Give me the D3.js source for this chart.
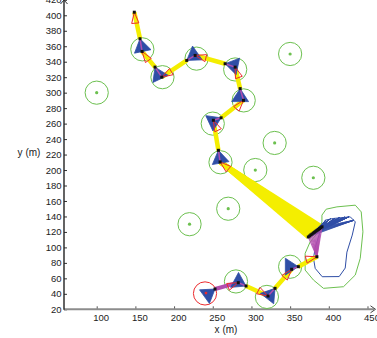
<!DOCTYPE html>
<html><head><meta charset="utf-8">
<script src="https://cdn.jsdelivr.net/npm/d3@7"></script>
<style>body{margin:0;background:#fff} svg{display:block} text{font-family:"Liberation Sans",Arial,sans-serif}</style>
</head><body><svg id="c" width="377" height="338"></svg>
<script>
// ---------- data (metres) ----------
const xTicks = [100,150,200,250,300,350,400,450];
const yTicks = [20,40,60,80,100,120,140,160,180,200,220,240,260,280,300,320,340,360,380,400,420];
const landmarks = [[100,300],[350,350],[330,235],[305,200],[380,190],[270,150],[220,130]];
const waypointCircles = [[159,356],[185,320],[229,344],[279,330],[290,290],[250,260],[260,210],[350,75],[320,36],[280,56]];
const goalCircle = [240,40.5];
const circleRadius = 15;
// route nodes: S, W1..W7, W8, W9..W12
const arrivePts = [null,[156.0,369.7],[175.4,333.0],[216.4,341.7],[266.0,337.4],[285.4,305.2],[260.8,267.5],[257.3,225.5],null,[360.6,75.1],[330.5,47.1],[293.0,50.1],[252.9,46.2]];
const departPts = [[148.6,404.0],[158.6,353.3],[184.1,320.1],[227.2,348.1],[278.9,333.0],[289.7,290.1],[250.8,264.3],[259.5,210.5],[384.6,87.9],[352.0,71.7],[321.4,37.2],[283.0,54.4],null];
const blueHeading = [null,-78,-65,35,-12,-90,-155,-80,null,180,-128,152,-144];
const redHeading  = [-85,-55,30,-14,-70,-130,-65,-41,-165,-130,151,-158,null];
// particle cloud at W8 (end of the long beam)
const particles = [[373.5,113.5],[375.2,114.8],[376.8,116.2],[378.4,117.3],[380.0,118.6],[381.6,119.7],[383.2,120.9],[384.8,122.0],[386.4,123.1],[388.0,124.3],[389.6,125.4],[391.2,126.6]];
const blueTargets = [[396,135],[402,137],[408,137.5],[414,138.5],[420,139],[426,139.5],[432,135]];
const greenContour = [[391.1,141.7],[396.6,149.4],[410.5,152.4],[434.2,154.6],[441.9,145.9],[444.1,120.1],[440.6,85.8],[434.2,64.3],[419.0,49.2],[393.1,47.1],[380.2,57.8],[369.4,70.7],[369.4,92.3],[375.9,107.2],[386.7,120.1],[391.1,133.0]];
const blueContour = [[395.3,135.2],[406.1,137.4],[427.7,139.5],[434.2,133.0],[430.3,115.9],[423.4,93.9],[421.2,73.3],[413.4,62.3],[391.5,62.1],[382.4,72.9],[380.2,85.8],[382.5,100],[388,118],[395.3,135.2]];

// ---------- scales ----------
const k = 0.7737;
const xs = d3.scaleLinear().domain([100,450]).range([96.7, 96.7+350*k]);
const ys = d3.scaleLinear().domain([20,420]).range([309.3, 309.3-400*k]);
const svg = d3.select("#c");
const line = d3.line().x(d=>xs(d[0])).y(d=>ys(d[1]));
const GREEN="#6cc04f", BLUE="#2f4ea6", YEL="#f4ee00", MAG="#b24dae", RED="#ec2b2e";

// ---------- axes ----------
const gx = svg.append("g").attr("transform",`translate(0,${ys(20)})`)
  .call(d3.axisBottom(xs).tickValues(xTicks).tickSize(-3).tickPadding(4.5));
gx.select(".domain").remove();
gx.selectAll(".tick line").attr("stroke","#555");
gx.selectAll("text").attr("dx",4).attr("fill","#222").style("font-size","9.5px");
const gy = svg.append("g").attr("transform","translate(64,0)")
  .call(d3.axisLeft(ys).tickValues(yTicks).tickSize(-3).tickPadding(2.5));
gy.select(".domain").remove();
gy.selectAll(".tick line").attr("stroke","#333");
gy.selectAll("text").attr("fill","#222").style("font-size","9.5px");
svg.append("line").attr("x1",64).attr("x2",374).attr("y1",ys(20)).attr("y2",ys(20)).attr("stroke","#8c8c8c").attr("stroke-width",2);
svg.append("path").attr("d",`M370.5,${ys(20)-3.5}L375.5,${ys(20)}L370.5,${ys(20)+3.5}`).attr("fill","none").attr("stroke","#444").attr("stroke-width",1);
svg.append("line").attr("x1",64).attr("x2",64).attr("y1",0).attr("y2",ys(20)+0.5).attr("stroke","#222").attr("stroke-width",1.4);
svg.append("path").attr("d","M60.5,4L64,0L67.5,4").attr("fill","none").attr("stroke","#333").attr("stroke-width",1);
svg.append("text").attr("x",226).attr("y",333).attr("text-anchor","middle").attr("fill","#222").style("font-size","10px").text("x (m)");
svg.append("text").attr("x",29).attr("y",156).attr("text-anchor","middle").attr("fill","#222").style("font-size","10px").text("y (m)");

const plot = svg.append("g");
const r = xs(100+circleRadius)-xs(100);

// landmarks
plot.selectAll(".lm").data(landmarks).join("circle").attr("cx",d=>xs(d[0])).attr("cy",d=>ys(d[1])).attr("r",r)
  .attr("fill","none").attr("stroke",GREEN).attr("stroke-width",1);
plot.selectAll(".lmd").data(landmarks).join("circle").attr("cx",d=>xs(d[0])).attr("cy",d=>ys(d[1])).attr("r",1.6).attr("fill",GREEN);
plot.selectAll(".wp").data(waypointCircles).join("circle").attr("cx",d=>xs(d[0])).attr("cy",d=>ys(d[1])).attr("r",r)
  .attr("fill","none").attr("stroke",GREEN).attr("stroke-width",1);
plot.append("circle").attr("cx",xs(goalCircle[0])).attr("cy",ys(goalCircle[1])).attr("r",r).attr("fill","none").attr("stroke",RED).attr("stroke-width",1);

// contours
plot.append("path").attr("d",line(greenContour.concat([greenContour[0]]))).attr("fill","none").attr("stroke",GREEN).attr("stroke-width",1);
plot.append("path").attr("d",line(blueContour)).attr("fill","none").attr("stroke",BLUE).attr("stroke-width",1);

// yellow beams
const beams=[];
for(let i=0;i<departPts.length-1;i++){
  if(departPts[i] && arrivePts[i+1] && i+1 !== arrivePts.length-1) beams.push([departPts[i],arrivePts[i+1]]);
}
plot.selectAll(".beam").data(beams).join("path").attr("d",d=>line(d)).attr("stroke",YEL).attr("stroke-width",4.5).attr("fill","none");
// long beam to particle cloud
plot.selectAll(".fan").data(particles).join("path").attr("d",d=>line([departPts[7],d])).attr("stroke",YEL).attr("stroke-width",4.5).attr("fill","none");
// particle fans
particles.forEach(p=>{
  blueTargets.forEach(t=>{
    plot.append("path").attr("d",line([p,t])).attr("stroke",BLUE).attr("stroke-width",0.7).attr("fill","none");
  });
});
particles.forEach(p=>{
  plot.append("path").attr("d",line([p,departPts[8]])).attr("stroke",MAG).attr("stroke-width",1.2).attr("fill","none").attr("opacity",0.85);
});
// final magenta beam
plot.append("path").attr("d",line([departPts[11],arrivePts[12]])).attr("stroke",MAG).attr("stroke-width",4).attr("fill","none");

// blue sensor cones
const rad = a=>a*Math.PI/180;
function tri(p,ang,L,h){return [p,[p[0]+L*Math.cos(rad(ang+h)),p[1]+L*Math.sin(rad(ang+h))],[p[0]+L*Math.cos(rad(ang-h)),p[1]+L*Math.sin(rad(ang-h))],p];}
arrivePts.forEach((a,i)=>{
  if(a && blueHeading[i]!==null) plot.append("path").attr("d",line(tri(a,blueHeading[i],20,33))).attr("fill",BLUE).attr("stroke",BLUE).attr("stroke-width",0.8);
});
// magenta link arrive-depart
arrivePts.forEach((a,i)=>{
  if(a && departPts[i]) plot.append("path").attr("d",line([a,departPts[i]])).attr("stroke",MAG).attr("stroke-width",1.5);
});
// red heading triangles
departPts.forEach((d,i)=>{
  if(d && redHeading[i]!==null) plot.append("path").attr("d",line(tri(d,redHeading[i],15,18))).attr("fill","none").attr("stroke",RED).attr("stroke-width",1);
});
plot.append("circle").attr("cx",xs(arrivePts[12][0])-9).attr("cy",ys(arrivePts[12][1])+4).attr("r",1.4).attr("fill",RED);
// black squares
const sq = arrivePts.concat(departPts).concat(particles).filter(d=>d);
plot.selectAll(".sq").data(sq).join("rect").attr("x",d=>xs(d[0])-1.5).attr("y",d=>ys(d[1])-1.5).attr("width",3).attr("height",3).attr("fill","#111");
</script></body></html>
